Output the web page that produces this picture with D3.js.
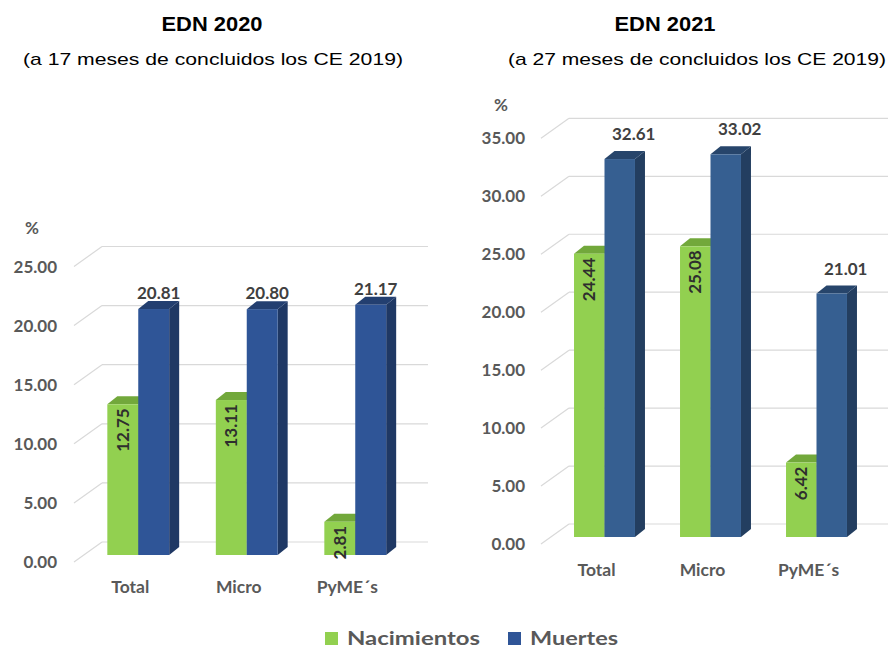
<!DOCTYPE html>
<html>
<head>
<meta charset="utf-8">
<script src="https://cdn.jsdelivr.net/npm/d3@7/dist/d3.min.js"></script>
<style>
  html, body { margin: 0; padding: 0; background: #ffffff; }
  svg { display: block; }
</style>
</head>
<body>
<svg id="chart" width="888" height="648"></svg>
<script>
// ---- Data ----
const categories = ["Total", "Micro", "PyME´s"];
const seriesNames = ["Nacimientos", "Muertes"];
const nacimientos2020 = [12.75, 13.11, 2.81];
const muertes2020 = [20.81, 20.80, 21.17];
const nacimientos2021 = [24.44, 25.08, 6.42];
const muertes2021 = [32.61, 33.02, 21.01];
const ticks2020 = [0, 5, 10, 15, 20, 25];
const ticks2021 = [0, 5, 10, 15, 20, 25, 30, 35];
const titles = ["EDN 2020", "EDN 2021"];
const subtitles = ["(a 17 meses de concluidos los CE 2019)", "(a 27 meses de concluidos los CE 2019)"];

const svg = d3.select("#chart");
const gray = "#595959";
const colors = {
  Nacimientos: { front: "#92D050", top: "#72A83B", side: "#5E8F2E" },
  Muertes2020: { front: "#2F5597", top: "#233F70", side: "#1F3864" },
  Muertes2021: { front: "#365F91", top: "#27456B", side: "#233E60" }
};
const DX = 10, DY = 8;

const charts = [
  {
    nac: nacimientos2020, mue: muertes2020, ticks: ticks2020, max: 25,
    y0: 555, pxPerUnit: 11.82, xRange: [84, 409.5], padIn: 0.43, padOut: 0.215,
    backX0: 102, backX1: 428, tickX: 57, pct: [32, 228], blue: colors.Muertes2020,
    valDx: 5, valDy: 16, catDy: 32,
    title: [212, 31], sub: [213, 65, 380], titleW: 101
  },
  {
    nac: nacimientos2021, mue: muertes2021, ticks: ticks2021, max: 35,
    y0: 537, pxPerUnit: 11.59, xRange: [551.5, 869.5], padIn: 0.425, padOut: 0.2125,
    backX0: 569, backX1: 888, tickX: 525, pct: [501, 105], blue: colors.Muertes2021,
    valDx: 14, valDy: 25, catDy: 33,
    title: [665, 31], sub: [697, 65, 378], titleW: 101
  }
];

charts.forEach((c, ci) => {
  const g = svg.append("g");
  const y = d3.scaleLinear().domain([0, c.max]).range([c.y0, c.y0 - c.max * c.pxPerUnit]);
  const x = d3.scaleBand().domain(categories).range(c.xRange).paddingInner(c.padIn).paddingOuter(c.padOut);
  const xs = d3.scaleBand().domain(seriesNames).range([0, x.bandwidth()]);

  // Titles
  g.append("text").attr("x", c.title[0]).attr("y", c.title[1])
    .attr("text-anchor", "middle").attr("font-family", "Liberation Sans, Arial, sans-serif")
    .attr("font-weight", "bold").attr("font-size", 20).attr("fill", "#000")
    .attr("textLength", c.titleW).attr("lengthAdjust", "spacingAndGlyphs")
    .text(titles[ci]);
  g.append("text").attr("x", c.sub[0]).attr("y", c.sub[1])
    .attr("text-anchor", "middle").attr("font-family", "Liberation Sans, Arial, sans-serif")
    .attr("font-size", 17).attr("fill", "#000")
    .attr("textLength", c.sub[2]).attr("lengthAdjust", "spacingAndGlyphs")
    .text(subtitles[ci]);

  // Gridlines (back wall + floor diagonal)
  const grid = g.append("g");
  c.ticks.forEach(t => {
    const yb = y(t) - 13;
    grid.append("line").attr("x1", c.backX0).attr("x2", c.backX1).attr("y1", yb).attr("y2", yb)
      .attr("stroke", "#D9D9D9").attr("stroke-width", 1.2);
    grid.append("line").attr("x1", c.backX0).attr("y1", yb).attr("x2", c.backX0 - 28).attr("y2", yb + 20)
      .attr("stroke", "#D9D9D9").attr("stroke-width", 1.2);
  });

  // Tick labels
  g.append("g").selectAll("text").data(c.ticks).join("text")
    .attr("x", c.tickX).attr("y", d => y(d) + 7).attr("dy", "0.36em")
    .attr("text-anchor", "end").attr("font-family", "Lato, sans-serif").attr("font-weight", 700)
    .attr("font-size", 17).attr("fill", gray)
    .text(d => d3.format(".2f")(d));

  g.append("text").attr("x", c.pct[0]).attr("y", c.pct[1]).attr("dy", "0.36em")
    .attr("text-anchor", "middle").attr("font-family", "Lato, sans-serif").attr("font-weight", 700)
    .attr("font-size", 17).attr("fill", gray).text("%");

  // Bars
  const data = categories.map((cat, i) => ({ cat, vals: [
    { s: "Nacimientos", v: c.nac[i], col: colors.Nacimientos },
    { s: "Muertes", v: c.mue[i], col: c.blue }
  ]}));

  data.forEach(d => {
    d.vals.forEach(b => {
      const x0 = x(d.cat) + xs(b.s), w = xs.bandwidth();
      const yt = y(b.v), yb = y(0);
      g.append("path").attr("d", `M${x0 + w},${yt} L${x0 + w + DX},${yt - DY} L${x0 + w + DX},${yb - DY} L${x0 + w},${yb} Z`)
        .attr("fill", b.col.side);
      g.append("path").attr("d", `M${x0},${yt} L${x0 + DX},${yt - DY} L${x0 + w + DX},${yt - DY} L${x0 + w},${yt} Z`)
        .attr("fill", b.col.top);
      g.append("rect").attr("x", x0).attr("y", yt).attr("width", w).attr("height", yb - yt)
        .attr("fill", b.col.front);
    });
  });

  // Value labels
  data.forEach(d => {
    const gN = d.vals[0], gM = d.vals[1];
    const xn = x(d.cat) + xs("Nacimientos") + xs.bandwidth() / 2;
    const yn = y(gN.v) + 4;
    g.append("text").attr("transform", `translate(${xn},${yn}) rotate(-90)`)
      .attr("dy", "0.36em").attr("text-anchor", "end")
      .attr("font-family", "Lato, sans-serif").attr("font-weight", 700).attr("font-size", 17)
      .attr("fill", "#2E2E2E").text(d3.format(".2f")(gN.v));
    const xm = x(d.cat) + xs("Muertes") + xs.bandwidth() / 2 + c.valDx;
    g.append("text").attr("x", xm).attr("y", y(gM.v) - c.valDy).attr("dy", "0.36em")
      .attr("text-anchor", "middle")
      .attr("font-family", "Lato, sans-serif").attr("font-weight", 700).attr("font-size", 17)
      .attr("fill", "#404040").text(d3.format(".2f")(gM.v));
  });

  // Category labels
  g.append("g").selectAll("text").data(categories).join("text")
    .attr("x", d => x(d) + x.bandwidth() / 2 - 8).attr("y", y(0) + c.catDy).attr("dy", "0.36em")
    .attr("text-anchor", "middle").attr("font-family", "Lato, sans-serif").attr("font-weight", 700)
    .attr("font-size", 17.5).attr("fill", gray).text(d => d);
});

// Legend
const legend = svg.append("g");
const legendItems = [
  { name: seriesNames[0], color: colors.Nacimientos.front, x: 325, w: 133 },
  { name: seriesNames[1], color: colors.Muertes2020.front, x: 508, w: 88 }
];
legendItems.forEach(li => {
  legend.append("rect").attr("x", li.x).attr("y", 632).attr("width", 13).attr("height", 13).attr("fill", li.color);
  legend.append("text").attr("x", li.x + 22).attr("y", 638.5).attr("dy", "0.36em")
    .attr("font-family", "Lato, sans-serif").attr("font-weight", 700).attr("font-size", 19)
    .attr("fill", gray).attr("textLength", li.w).attr("lengthAdjust", "spacingAndGlyphs")
    .text(li.name);
});
</script>
</body>
</html>
